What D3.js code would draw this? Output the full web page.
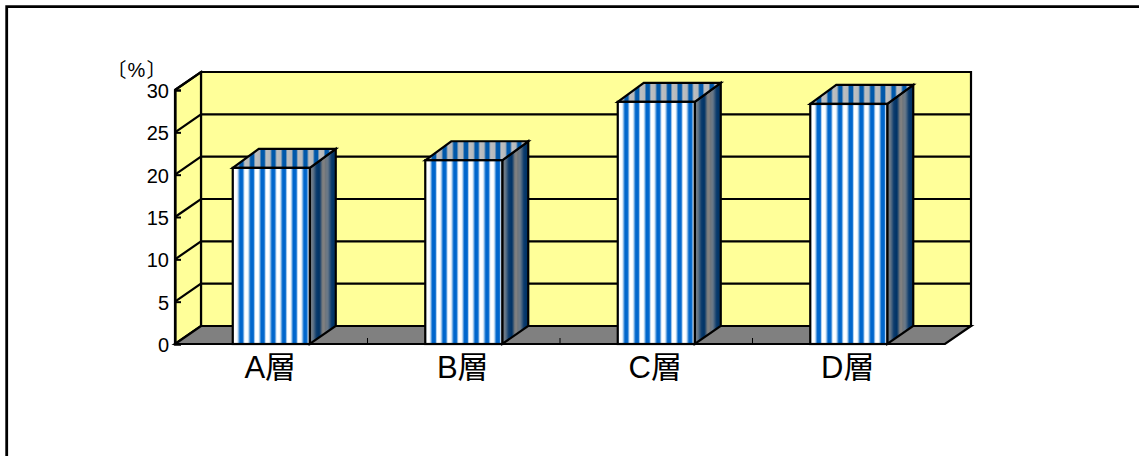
<!DOCTYPE html>
<html lang="ja">
<head>
<meta charset="utf-8">
<title>層別の割合</title>
<script src="https://cdnjs.cloudflare.com/ajax/libs/d3/7.8.5/d3.min.js"></script>
<style>
  html, body { margin: 0; padding: 0; background: #fff; overflow: hidden; }
  svg { display: block; }
  text { fill: #000; }
  .num { font-family: "Liberation Sans", Arial, sans-serif; font-size: 20px; }
  .cat { font-family: "Liberation Sans", "Noto Sans CJK JP", sans-serif; font-size: 31px; }
  .unit { font-family: "Noto Sans CJK JP", sans-serif; font-size: 20px; letter-spacing: 1px; }
  .unit .pct { font-family: "Liberation Sans", Arial, sans-serif; font-size: 20px; }
</style>
</head>
<body>
<svg id="chart" width="1139" height="456"></svg>
<script>
// Share of each layer, in percent
const categories = ["A層", "B層", "C層", "D層"];
const shares = [20.8, 21.7, 28.6, 28.35];
const yTicks = [0, 5, 10, 15, 20, 25, 30];
const unitParts = ["〔", "%", "〕"];

const svg = d3.select("#chart");

const frontLeft = 175, frontRight = 945, frontBase = 344, frontTop = 90;
const wallDx = 26, wallDy = -18, barDy = -19;

const x = d3.scaleBand().domain(categories).range([frontLeft, frontRight])
  .paddingInner(0.6).paddingOuter(0.3);
const y = d3.scaleLinear().domain([0, 30]).range([frontBase, frontTop]);

// Repeating vertical stripes used on the three visible faces of a bar
const defs = svg.append("defs");
function stripes(id, period, stops, offsetX) {
  const gid = id + "-g";
  const g = defs.append("linearGradient").attr("id", gid)
    .attr("x1", 0).attr("x2", 1).attr("y1", 0).attr("y2", 0);
  stops.forEach(([o, c]) => g.append("stop").attr("offset", o).attr("stop-color", c));
  defs.append("pattern").attr("id", id).attr("patternUnits", "userSpaceOnUse")
    .attr("width", period).attr("height", 40)
    .attr("patternTransform", `translate(${offsetX},0)`)
    .append("rect").attr("width", period).attr("height", 40).attr("fill", `url(#${gid})`);
}
const frontStops = [[0, "#ffffff"], [0.3, "#ffffff"], [0.45, "#8fbde8"], [0.55, "#0066cc"], [0.85, "#0066cc"], [1, "#ffffff"]];
const topStops = [[0, "#c0c0c0"], [0.42, "#b4b8bc"], [0.58, "#0058aa"], [0.88, "#0058aa"], [1, "#c0c0c0"]];
const sideStops = [[0, "#707478"], [0.2, "#6a7a8a"], [0.45, "#0a3a6c"], [0.65, "#003366"], [0.85, "#808080"], [1, "#808080"]];

categories.forEach((c, i) => {
  const left = x(c);
  stripes(`front${i}`, 10.67, frontStops, left + 1);
  stripes(`top${i}`, 10.67, topStops, left + 1);
  stripes(`side${i}`, 15, sideStops, left + x.bandwidth());
});

// Outer frame: only the top and left edges are in view
svg.append("path")
  .attr("d", d3.line()([[6.7, 456], [6.7, 6.7], [1139, 6.7]]))
  .attr("fill", "none").attr("stroke", "#000").attr("stroke-width", 2.8);

const line = d3.line();
const outline = { stroke: "#000", "stroke-width": 2.2, "stroke-linejoin": "miter" };
const applyOutline = s => Object.entries(outline).forEach(([k, v]) => s.attr(k, v));

const chart = svg.append("g");

// Back wall and side wall
chart.append("path")
  .attr("d", line([[frontLeft + wallDx, y(30) + wallDy], [frontRight + wallDx, y(30) + wallDy],
                   [frontRight + wallDx, y(0) + wallDy], [frontLeft + wallDx, y(0) + wallDy]]) + "Z")
  .attr("fill", "#ffff99").call(applyOutline);
chart.append("path")
  .attr("d", line([[frontLeft, y(30)], [frontLeft + wallDx, y(30) + wallDy],
                   [frontLeft + wallDx, y(0) + wallDy], [frontLeft, y(0)]]) + "Z")
  .attr("fill", "#ffff99").call(applyOutline);

// Floor
chart.append("path")
  .attr("d", line([[frontLeft, y(0)], [frontLeft + wallDx, y(0) + wallDy],
                   [frontRight + wallDx, y(0) + wallDy], [frontRight, y(0)]]) + "Z")
  .attr("fill", "#808080").call(applyOutline);

// Gridlines on both walls
chart.append("g").selectAll("path").data(yTicks.filter(t => t > 0)).join("path")
  .attr("d", t => line([[frontLeft, y(t)], [frontLeft + wallDx, y(t) + wallDy], [frontRight + wallDx, y(t) + wallDy]]))
  .attr("fill", "none").call(applyOutline);

// Axes: short inward ticks on the value axis, labels under the categories
const yAxis = d3.axisLeft(y).tickValues(yTicks).tickSize(-6).tickPadding(6);
const yG = chart.append("g").attr("transform", `translate(${frontLeft},1)`).call(yAxis);
yG.attr("font-family", null).attr("font-size", null);
yG.select(".domain").attr("transform", "translate(0,-1)").attr("stroke", "#000").attr("stroke-width", 2.2);
yG.selectAll(".tick line").attr("transform", "translate(0,-1)").attr("stroke", "#000").attr("stroke-width", 2);
yG.selectAll("text").attr("class", "num");

const xAxis = d3.axisBottom(x).tickSize(0).tickPadding(12);
const xG = chart.append("g").attr("transform", `translate(-1,${frontBase})`).call(xAxis);
xG.attr("font-family", null).attr("font-size", null);
xG.select(".domain").remove();
xG.selectAll("text").attr("class", "cat");

// Category separators rising from the front edge of the floor
const sepPositions = d3.range(categories.length - 1).map(i => frontLeft + x.step() * (i + 1));
chart.append("g").selectAll("line").data(sepPositions).join("line")
  .attr("x1", d => d).attr("x2", d => d)
  .attr("y1", frontBase).attr("y2", frontBase - 6)
  .attr("stroke", "#000").attr("stroke-width", 1);

// Bars: side face, top face, then front face
const bars = chart.append("g").selectAll("g").data(categories).join("g");
bars.append("path")
  .attr("d", c => {
    const r = x(c) + x.bandwidth(), t = y(shares[categories.indexOf(c)]);
    return line([[r, t], [r + wallDx, t + barDy], [r + wallDx, y(0) + wallDy], [r, y(0)]]) + "Z";
  })
  .attr("fill", c => `url(#side${categories.indexOf(c)})`).call(applyOutline);
bars.append("path")
  .attr("d", c => {
    const l = x(c), r = l + x.bandwidth(), t = y(shares[categories.indexOf(c)]);
    return line([[l, t], [l + wallDx, t + barDy], [r + wallDx, t + barDy], [r, t]]) + "Z";
  })
  .attr("fill", c => `url(#top${categories.indexOf(c)})`).call(applyOutline);
bars.append("rect")
  .attr("x", c => x(c))
  .attr("y", c => y(shares[categories.indexOf(c)]))
  .attr("width", x.bandwidth())
  .attr("height", c => y(0) - y(shares[categories.indexOf(c)]))
  .attr("fill", c => `url(#front${categories.indexOf(c)})`).call(applyOutline);

// Unit label above the value axis
const unit = chart.append("text").attr("class", "unit")
  .attr("x", 137).attr("y", 77).attr("text-anchor", "middle");
unit.selectAll("tspan").data(unitParts).join("tspan")
  .attr("class", d => d === "%" ? "pct" : null)
  .text(d => d);
</script>
</body>
</html>
